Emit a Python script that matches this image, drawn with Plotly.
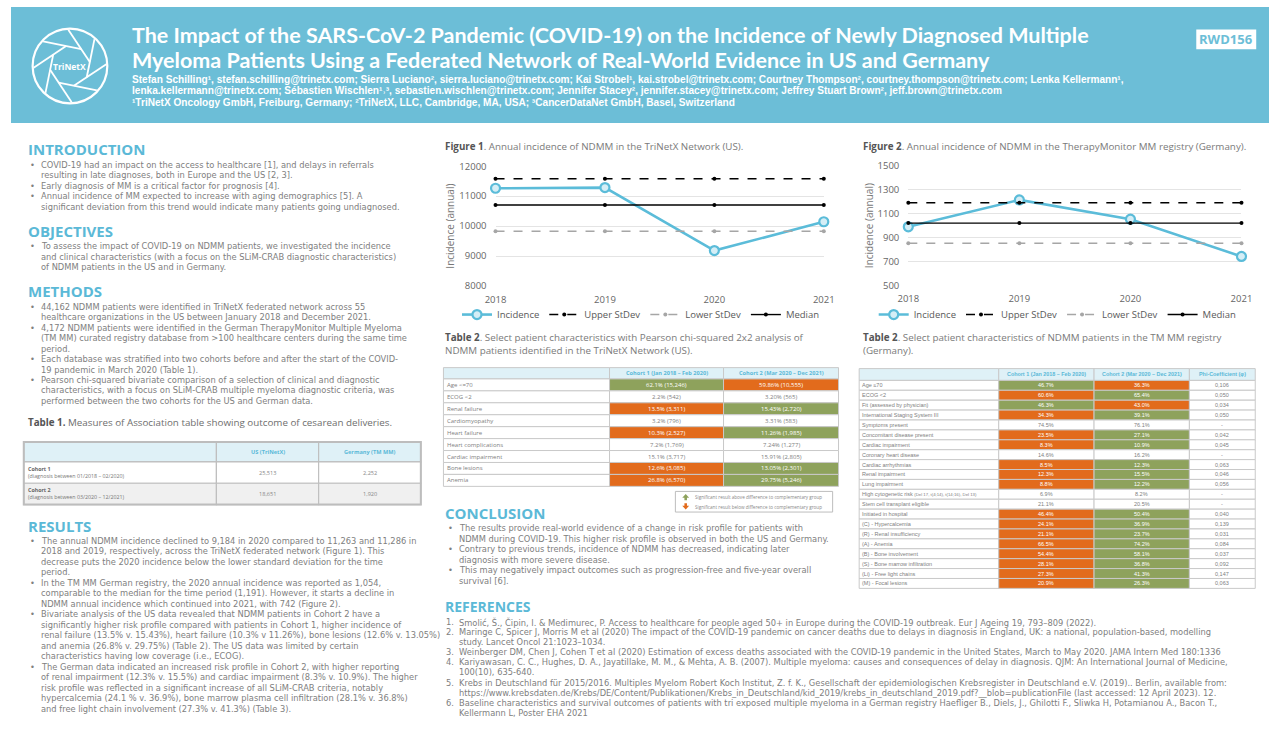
import math
import plotly.graph_objects as go

W, H = 1280, 747

# ---------------- data ----------------
years = [2018, 2019, 2020, 2021]
series_names = ["Incidence", "Upper StDev", "Lower StDev", "Median"]

us_incidence = [11263, 11286, 9184, 10145]
us_upper_sd = [11580, 11580, 11580, 11580]
us_lower_sd = [9830, 9830, 9830, 9830]
us_median = [10705, 10705, 10705, 10705]

de_incidence = [990, 1215, 1054, 742]
de_upper_sd = [1191, 1191, 1191, 1191]
de_lower_sd = [853, 853, 853, 853]
de_median = [1021, 1021, 1021, 1021]

us_yticks = [8000, 9000, 10000, 11000, 12000]
de_yticks = [500, 700, 900, 1100, 1300, 1500]

t1_header = ["", "US (TriNetX)", "Germany (TM MM)"]
t1_cohorts = ["Cohort 1", "Cohort 2"]
t1_periods = ["(diagnosis between 01/2018 – 02/2020)", "(diagnosis between 03/2020 – 12/2021)"]
t1_us = ["25,513", "18,651"]
t1_de = ["2,252", "1,920"]

t2_header = ["", "Cohort 1 (Jan 2018 – Feb 2020)", "Cohort 2 (Mar 2020 – Dec 2021)"]
t2_labels = ["Age &lt;=70", "ECOG &lt;2", "Renal failure", "Cardiomyopathy", "Heart failure",
             "Heart complications", "Cardiac impairment", "Bone lesions", "Anemia"]
t2_c1 = ["62.1% (15,246)", "2.2% (542)", "13.5% (3,311)", "3.2% (796)", "10.3% (2,527)",
         "7.2% (1,769)", "15.1% (3,717)", "12.6% (3,085)", "26.8% (6,570)"]
t2_c2 = ["59.86% (10,555)", "3.20% (565)", "15.43% (2,720)", "3.31% (583)", "11.26% (1,985)",
         "7.24% (1,277)", "15.91% (2,805)", "13.05% (2,301)", "29.75% (5,246)"]
t2_sig1 = ["+", "", "-", "", "-", "", "", "-", "-"]
t2_sig2 = ["-", "", "+", "", "+", "", "", "+", "+"]

t3_header = ["", "Cohort 1 (Jan 2018 – Feb 2020)", "Cohort 2 (Mar 2020 – Dec 2021)", "Phi-Coefficient (φ)"]
t3_labels = ["Age ≤70", "ECOG &lt;2", "Fit (assessed by physician)", "International Staging System III",
             "Symptoms present", "Concomitant disease present", "Cardiac impairment",
             "Coronary heart disease", "Cardiac arrhythmias", "Renal impairment", "Lung impairment",
             "High cytogenetic risk <span style='font-size:4.3px'>(Del 17, t(4;14), t(14;16), Del 13)</span>",
             "Stem cell transplant eligible", "Initiated in hospital", "(C) - Hypercalcemia",
             "(R) - Renal insufficiency", "(A) - Anemia", "(B) - Bone involvement",
             "(S) - Bone marrow infiltration", "(Li) - Free light chains", "(M) - Focal lesions"]
t3_c1 = ["46.7%", "60.6%", "46.3%", "34.3%", "74.5%", "23.5%", "8.3%", "14.6%", "8.5%", "12.3%",
         "8.8%", "6.9%", "21.1%", "46.4%", "24.1%", "21.1%", "66.5%", "54.4%", "28.1%", "27.3%", "20.9%"]
t3_c2 = ["36.3%", "65.4%", "43.0%", "39.1%", "76.1%", "27.1%", "10.9%", "16.2%", "12.3%", "15.5%",
         "12.2%", "8.2%", "20.5%", "50.4%", "36.9%", "23.7%", "74.2%", "58.1%", "36.8%", "41.3%", "26.3%"]
t3_phi = ["0,106", "0,050", "0,034", "0,050", "-", "0,042", "0,045", "-", "0,063", "0,046",
          "0,056", "-", "-", "0,040", "0,139", "0,031", "0,084", "0,037", "0,092", "0,147", "0,063"]
t3_sig1 = ["+", "-", "+", "-", "", "-", "-", "", "-", "-", "-", "", "", "-", "-", "-", "-", "-", "-", "-", "-"]
t3_sig2 = ["-", "+", "-", "+", "", "+", "+", "", "+", "+", "+", "", "", "+", "+", "+", "+", "+", "+", "+", "+"]

# ---------------- text ----------------
title_lines = [
    "The Impact of the SARS-CoV-2 Pandemic (COVID-19) on the Incidence of Newly Diagnosed Multiple",
    "Myeloma Patients Using a Federated Network of Real-World Evidence in US and Germany",
]
author_lines = [
    "Stefan Schilling¹, stefan.schilling@trinetx.com; Sierra Luciano², sierra.luciano@trinetx.com; Kai Strobel¹, kai.strobel@trinetx.com; Courtney Thompson², courtney.thompson@trinetx.com; Lenka Kellermann¹,",
    "lenka.kellermann@trinetx.com; Sébastien Wischlen¹˒³, sebastien.wischlen@trinetx.com; Jennifer Stacey², jennifer.stacey@trinetx.com; Jeffrey Stuart Brown², jeff.brown@trinetx.com",
    "¹TriNetX Oncology GmbH, Freiburg, Germany; ²TriNetX, LLC, Cambridge, MA, USA; ³CancerDataNet GmbH, Basel, Switzerland",
]
intro_lines = [
    "• COVID-19 had an impact on the access to healthcare [1], and delays in referrals",
    "resulting in late diagnoses, both in Europe and the US [2, 3].",
    "• Early diagnosis of MM is a critical factor for prognosis [4].",
    "• Annual incidence of MM expected to increase with aging demographics [5]. A",
    "significant deviation from this trend would indicate many patients going undiagnosed.",
]
objective_lines = [
    "• To assess the impact of COVID-19 on NDMM patients, we investigated the incidence",
    "and clinical characteristics (with a focus on the SLiM-CRAB diagnostic characteristics)",
    "of NDMM patients in the US and in Germany.",
]
methods_lines = [
    "• 44,162 NDMM patients were identified in TriNetX federated network across 55",
    "healthcare organizations in the US between January 2018 and December 2021.",
    "• 4,172 NDMM patients were identified in the German TherapyMonitor Multiple Myeloma",
    "(TM MM) curated registry database from &gt;100 healthcare centers during the same time",
    "period.",
    "• Each database was stratified into two cohorts before and after the start of the COVID-",
    "19 pandemic in March 2020 (Table 1).",
    "• Pearson chi-squared bivariate comparison of a selection of clinical and diagnostic",
    "characteristics, with a focus on SLiM-CRAB multiple myeloma diagnostic criteria, was",
    "performed between the two cohorts for the US and German data.",
]
results_lines = [
    "• The annual NDMM incidence declined to 9,184 in 2020 compared to 11,263 and 11,286 in",
    "2018 and 2019, respectively, across the TriNetX federated network (Figure 1). This",
    "decrease puts the 2020 incidence below the lower standard deviation for the time",
    "period.",
    "• In the TM MM German registry, the 2020 annual incidence was reported as 1,054,",
    "comparable to the median for the time period (1,191). However, it starts a decline in",
    "NDMM annual incidence which continued into 2021, with 742 (Figure 2).",
    "• Bivariate analysis of the US data revealed that NDMM patients in Cohort 2 have a",
    "significantly higher risk profile compared with patients in Cohort 1, higher incidence of",
    "renal failure (13.5% v. 15.43%), heart failure (10.3% v 11.26%), bone lesions (12.6% v. 13.05%)",
    "and anemia (26.8% v. 29.75%) (Table 2). The US data was limited by certain",
    "characteristics having low coverage (i.e., ECOG).",
    "• The German data indicated an increased risk profile in Cohort 2, with higher reporting",
    "of renal impairment (12.3% v. 15.5%) and cardiac impairment (8.3% v. 10.9%). The higher",
    "risk profile was reflected in a significant increase of all SLiM-CRAB criteria, notably",
    "hypercalcemia (24.1 % v. 36.9%), bone marrow plasma cell infiltration (28.1% v. 36.8%)",
    "and free light chain involvement (27.3% v. 41.3%) (Table 3).",
]
conclusion_lines = [
    "• The results provide real-world evidence of a change in risk profile for patients with",
    "NDMM during COVID-19. This higher risk profile is observed in both the US and Germany.",
    "• Contrary to previous trends, incidence of NDMM has decreased, indicating later",
    "diagnosis with more severe disease.",
    "• This may negatively impact outcomes such as progression-free and five-year overall",
    "survival [6].",
]
reference_lines = [
    "1.|Smolić, Š., Čipin, I. & Medimurec, P. Access to healthcare for people aged 50+ in Europe during the COVID-19 outbreak. Eur J Ageing 19, 793–809 (2022).",
    "2.|Maringe C, Spicer J, Morris M et al (2020) The impact of the COVID-19 pandemic on cancer deaths due to delays in diagnosis in England, UK: a national, population-based, modelling",
    "|study. Lancet Oncol 21:1023–1034.",
    "3.|Weinberger DM, Chen J, Cohen T et al (2020) Estimation of excess deaths associated with the COVID-19 pandemic in the United States, March to May 2020. JAMA Intern Med 180:1336",
    "4.|Kariyawasan, C. C., Hughes, D. A., Jayatillake, M. M., & Mehta, A. B. (2007). Multiple myeloma: causes and consequences of delay in diagnosis. QJM: An International Journal of Medicine,",
    "|100(10), 635-640.",
    "5.|Krebs in Deutschland für 2015/2016. Multiples Myelom Robert Koch Institut, Z. f. K., Gesellschaft der epidemiologischen Krebsregister in Deutschland e.V. (2019).. Berlin, available from:",
    "|https://www.krebsdaten.de/Krebs/DE/Content/Publikationen/Krebs_in_Deutschland/kid_2019/krebs_in_deutschland_2019.pdf?__blob=publicationFile (last accessed: 12 April 2023). 12.",
    "6.|Baseline characteristics and survival outcomes of patients with tri exposed multiple myeloma in a German registry Haefliger B., Diels, J., Ghilotti F., Sliwka H, Potamianou A., Bacon T.,",
    "|Kellermann L, Poster EHA 2021",
]

# ---------------- style ----------------
BODY = "Open Sans"
PARA_FONT = "DejaVu Sans"
HEAD_BG = "#6CBED7"
ACCENT = "#5BB9D7"
TXT = "#808080"
GREEN = "#8EA25C"
ORANGE = "#E26B1C"
LINEBLUE = "#5BBCD9"
GRID = "#E4E4E4"
CELL_LINE = "#C9C9C9"
BODY_SIZE = 8.3
HEAD_SIZE = 15


def X(x):
    return x / W


def Y(y):
    return 1 - y / H


ann = []
shapes = []


def txt(x, y, s, size=BODY_SIZE, color=TXT, anchor="left", bold=False, family=BODY, yanchor="middle", angle=0):
    font = dict(size=size, color=color, family=family)
    if bold:
        font["weight"] = "bold"
    ann.append(dict(x=X(x), y=Y(y), xref="paper", yref="paper", text=s, showarrow=False,
                    xanchor=anchor, yanchor=yanchor, align=anchor,
                    font=font, borderpad=0, borderwidth=0, textangle=angle))


def rect(x0, y0, x1, y1, fill, line=None, lw=1, layer="above"):
    shapes.append(dict(type="rect", xref="paper", yref="paper", x0=X(x0), x1=X(x1), y0=Y(y1), y1=Y(y0),
                       fillcolor=fill, line=dict(color=line if line else fill, width=lw if line else 0),
                       layer=layer))


def seg(x0, y0, x1, y1, color, w):
    shapes.append(dict(type="line", xref="paper", yref="paper", x0=X(x0), y0=Y(y0), x1=X(x1), y1=Y(y1),
                       line=dict(color=color, width=w)))


def poly(pts, color):
    path = "M " + " L ".join(f"{X(px):.5f},{Y(py):.5f}" for px, py in pts) + " Z"
    shapes.append(dict(type="path", xref="paper", yref="paper", path=path, fillcolor=color,
                       line=dict(color=color, width=0)))


def para(x_text, x_bullet, y0, lh, lines, size=BODY_SIZE, color=TXT):
    for i, s in enumerate(lines):
        y = y0 + i * lh
        if s.startswith("• "):
            txt(x_bullet, y, "•", size, color, family=PARA_FONT)
            s = s[2:]
        txt(x_text, y, s, size, color, family=PARA_FONT)


# ---------------- header ----------------
rect(0, 0, W, 118, HEAD_BG, layer="below")
cx, cy, R = 60, 60, 38
shapes.append(dict(type="circle", xref="paper", yref="paper", x0=X(cx - R), x1=X(cx + R), y0=Y(cy + R),
                   y1=Y(cy - R), line=dict(color="white", width=2.2), fillcolor="rgba(0,0,0,0)"))
d_in, Rb = 19, 37
alpha = math.acos(d_in / Rb)
for k in range(8):
    phi = k * math.pi / 4 + 0.2
    ex, ey = cx + Rb * math.cos(phi - alpha), cy + Rb * math.sin(phi - alpha)
    rv = d_in / math.cos(math.pi / 8)
    vx, vy = cx + rv * math.cos(phi + math.pi / 8), cy + rv * math.sin(phi + math.pi / 8)
    seg(ex, ey, vx, vy, "white", 1.8)
txt(cx, cy + 1, "TriNetX", 8.5, "white", anchor="center", bold=True)

txt(123, 28.3, title_lines[0], 21.5, "white", bold=True, family="Lato")
txt(123, 54.3, title_lines[1], 21.5, "white", bold=True, family="Lato")
for i, s in enumerate(author_lines):
    txt(123, 73.3 + 11.8 * i, s, 10.1, "white", bold=True, family="Liberation Sans")

rect(1206, 23, 1267, 43, "white")
txt(1236.5, 33, "RWD156", 13, HEAD_BG, anchor="center", bold=True)

# ---------------- left column ----------------
txt(17, 145, "INTRODUCTION", HEAD_SIZE, ACCENT, bold=True)
para(31, 19, 160.7, 10.66, intro_lines)
txt(17, 227.8, "OBJECTIVES", HEAD_SIZE, ACCENT, bold=True)
para(31, 19, 243.3, 10.66, objective_lines)
txt(17, 289.5, "METHODS", HEAD_SIZE, ACCENT, bold=True)
para(31, 19, 305, 10.66, methods_lines)

txt(17, 423.3, "<b><span style='color:#555555'>Table 1.</span></b> Measures of Association table showing outcome of cesarean deliveries.", 9.8, "#6E6E6E")

# Table 1
t1x = [13, 209, 313, 417]
t1y = [442.7, 463, 484.7, 506.4]
for j in range(3):
    rect(t1x[j], t1y[0], t1x[j + 1], t1y[1], "#DFF1F7", "#BFBFBF", 1.2)
    if t1_header[j]:
        txt((t1x[j] + t1x[j + 1]) / 2, (t1y[0] + t1y[1]) / 2, t1_header[j], 5.6, ACCENT, anchor="center", bold=True)
for i in range(2):
    fill = "white" if i == 0 else "#F0F0F0"
    for j in range(3):
        rect(t1x[j], t1y[i + 1], t1x[j + 1], t1y[i + 2], fill, "#BFBFBF", 1.2)
    ym = (t1y[i + 1] + t1y[i + 2]) / 2
    txt(17, ym - 3.6, t1_cohorts[i], 5.3, "#666666", bold=True)
    txt(17, ym + 3.6, t1_periods[i], 5.3, "#777777")
    txt((t1x[1] + t1x[2]) / 2, ym, t1_us[i], 5.6, "#888888", anchor="center")
    txt((t1x[2] + t1x[3]) / 2, ym, t1_de[i], 5.6, "#888888", anchor="center")
shapes.append(dict(type="rect", xref="paper", yref="paper", x0=X(13), x1=X(417), y0=Y(506.4), y1=Y(442.7),
                   line=dict(color="#BDBDBD", width=2), fillcolor="rgba(0,0,0,0)"))

txt(17, 527.8, "RESULTS", HEAD_SIZE, ACCENT, bold=True)
para(31, 19, 543.3, 10.67, results_lines)

# ---------------- middle column ----------------
txt(442, 142, "<b><span style='color:#555555'>Figure 1</span></b>. Annual incidence of NDMM in the TriNetX Network (US).", 9.8, "#7A7A7A")
txt(442, 343, "<b><span style='color:#555555'>Table 2</span></b>. Select patient characteristics with Pearson chi-squared 2x2 analysis of<br>NDMM patients identified in the TriNetX Network (US).", 9.8, "#7A7A7A")

SIGC = {"+": GREEN, "-": ORANGE, "": "white"}


def draw_table(x_edges, y_top, header_h, row_h, header, columns, fills, size, hsize, family, label_pad=4):
    for j in range(len(x_edges) - 1):
        rect(x_edges[j], y_top, x_edges[j + 1], y_top + header_h, "#DFF1F7", CELL_LINE, 1)
        if header[j]:
            txt((x_edges[j] + x_edges[j + 1]) / 2, y_top + header_h / 2, header[j], hsize, ACCENT,
                anchor="center", bold=True, family=family)
    nrows = len(columns[0])
    for i in range(nrows):
        y0 = y_top + header_h + i * row_h
        for j in range(len(columns)):
            f = fills[j][i]
            rect(x_edges[j], y0, x_edges[j + 1], y0 + row_h, f, CELL_LINE, 1)
            col = "white" if f != "white" else "#808080"
            if j == 0:
                txt(x_edges[0] + label_pad, y0 + row_h / 2, columns[j][i], size, "#808080", family=family)
            else:
                txt((x_edges[j] + x_edges[j + 1]) / 2, y0 + row_h / 2, columns[j][i], size, col,
                    anchor="center", family=family)


draw_table([440, 609, 725, 842], 367, 11.5, 12.15, t2_header,
           [t2_labels, t2_c1, t2_c2],
           [["white"] * len(t2_labels), [SIGC[s] for s in t2_sig1], [SIGC[s] for s in t2_sig2]],
           6.0, 5.6, BODY)

# significance legend box
rect(676, 493, 836, 514, "white", "#BDBDBD", 1)
poly([(683, 499.5), (686.5, 495.5), (690, 499.5), (687.8, 499.5), (687.8, 502), (685.2, 502), (685.2, 499.5)], GREEN)
poly([(683, 507.5), (686.5, 511.5), (690, 507.5), (687.8, 507.5), (687.8, 505), (685.2, 505), (685.2, 507.5)], ORANGE)
txt(696, 498.5, "Significant result above difference to complementary group", 4.6, "#888888")
txt(696, 508.5, "Significant result below difference to complementary group", 4.6, "#888888")

txt(442, 515, "CONCLUSION", HEAD_SIZE, ACCENT, bold=True)
para(456, 445, 530.7, 10.66, conclusion_lines)

txt(442, 610, "REFERENCES", 14, ACCENT, bold=True)
for i, s in enumerate(reference_lines):
    num, body = s.split("|", 1)
    y = 626 + i * 10.25
    if num:
        txt(443, y, num, BODY_SIZE, TXT, family=PARA_FONT)
    txt(456, y, body, BODY_SIZE, TXT, family=PARA_FONT)

# ---------------- right column ----------------
txt(867, 142, "<b><span style='color:#555555'>Figure 2</span></b>. Annual incidence of NDMM in the TherapyMonitor MM registry (Germany).", 9.8, "#7A7A7A")
txt(867, 343, "<b><span style='color:#555555'>Table 2</span></b>. Select patient characteristics of NDMM patients in the TM MM registry<br>(Germany).", 9.8, "#7A7A7A")

draw_table([863, 1005, 1102, 1199, 1266], 368, 12, 10.08, t3_header,
           [t3_labels, t3_c1, t3_c2, t3_phi],
           [["white"] * len(t3_labels), [SIGC[s] for s in t3_sig1], [SIGC[s] for s in t3_sig2],
            ["white"] * len(t3_labels)],
           5.5, 5.4, "Liberation Sans", label_pad=3)

# ---------------- charts ----------------
fig = go.Figure()


def add_chart(xa, ya, leg, inc, up, lo, med):
    fig.add_trace(go.Scatter(x=years, y=inc, name=series_names[0], mode="lines+markers",
                             line=dict(color=LINEBLUE, width=2.6),
                             marker=dict(symbol="circle", size=9, color="#D5EEF6", line=dict(color=LINEBLUE, width=2.2)),
                             xaxis=xa, yaxis=ya, legend=leg, cliponaxis=False))
    fig.add_trace(go.Scatter(x=years, y=up, name=series_names[1], mode="lines+markers",
                             line=dict(color="black", width=1.4, dash="dash"),
                             marker=dict(size=4, color="black"), xaxis=xa, yaxis=ya, legend=leg, cliponaxis=False))
    fig.add_trace(go.Scatter(x=years, y=lo, name=series_names[2], mode="lines+markers",
                             line=dict(color="#A6A6A6", width=1.4, dash="dash"),
                             marker=dict(size=4, color="#A6A6A6"), xaxis=xa, yaxis=ya, legend=leg, cliponaxis=False))
    fig.add_trace(go.Scatter(x=years, y=med, name=series_names[3], mode="lines+markers",
                             line=dict(color="black", width=1.4),
                             marker=dict(size=4, color="black"), xaxis=xa, yaxis=ya, legend=leg, cliponaxis=False))


add_chart("x", "y", "legend", us_incidence, us_upper_sd, us_lower_sd, us_median)
add_chart("x2", "y2", "legend2", de_incidence, de_upper_sd, de_lower_sd, de_median)

tickfont = dict(size=9.5, color="#666666", family=BODY)
xcommon = dict(tickvals=years, showgrid=False, zeroline=False, showline=False, tickfont=tickfont,
               ticklabelstandoff=6, fixedrange=True)
ycommon = dict(showgrid=True, gridcolor=GRID, gridwidth=1, zeroline=False, showline=False, tickfont=tickfont,
               tickformat="d", ticklabelstandoff=8, fixedrange=True,
               title=dict(text="Incidence (annual)", font=dict(size=10, color="#777777", family=BODY), standoff=2))
legcommon = dict(orientation="h", yanchor="middle", xanchor="center", font=dict(size=9.5, color="#595959", family=BODY),
                 bgcolor="rgba(0,0,0,0)", itemwidth=30, tracegroupgap=0)

fig.update_layout(
    width=W, height=H, margin=dict(l=0, r=0, t=0, b=0),
    paper_bgcolor="white", plot_bgcolor="white",
    font=dict(family=BODY),
    xaxis=dict(domain=[X(493), X(827)], range=[2018, 2021], anchor="y", **xcommon),
    yaxis=dict(domain=[Y(284), Y(162)], range=[8000, 12000], tickvals=us_yticks, anchor="x", **ycommon),
    xaxis2=dict(domain=[X(913), X(1252)], range=[2018, 2021], anchor="y2", **xcommon),
    yaxis2=dict(domain=[Y(283.3), Y(161.7)], range=[500, 1500], tickvals=de_yticks, anchor="x2", **ycommon),
    legend=dict(x=X(641), y=Y(313), **legcommon),
    legend2=dict(x=X(1065), y=Y(313), **legcommon),
    annotations=ann,
    shapes=shapes,
)

fig.write_html("out.html", config={"displayModeBar": False},
               post_script="document.body.style.margin='0';document.body.style.overflow='hidden';")
